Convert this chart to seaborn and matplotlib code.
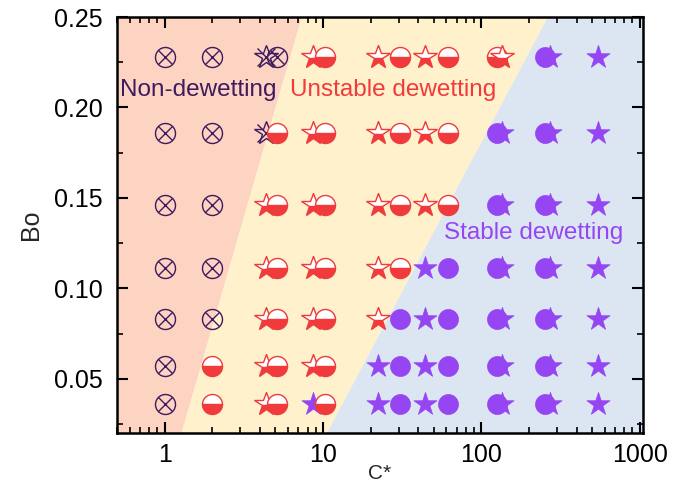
import numpy as np
import pandas as pd
import matplotlib
matplotlib.use("Agg")
import matplotlib.pyplot as plt
import matplotlib.ticker as mticker
import seaborn as sns

# ---------------- data ----------------
BO = [0.228, 0.186, 0.146, 0.111, 0.083, 0.057, 0.036]          # rows, top -> bottom

circle_C = [1.0, 2.0, 5.1, 10.3, 30.7, 61.7, 126, 254]
# N = non-dewetting, U = unstable dewetting, S = stable dewetting (per row, top -> bottom)
circle_states = ["NNNNNNN", "NNNNNUU", "NUUUUUU", "UUUUUUU",
                 "UUUUSSS", "UUUSSSS", "USSSSSS", "SSSSSSS"]

star_C = [4.36, 8.65, 22.3, 44.3, 135, 270, 542]
star_states = ["NNUUUUU", "UUUUUUS", "UUUUUSS", "UUUSSSS",
               "USSSSSS", "SSSSSSS", "SSSSSSS"]

# regime boundaries (C* at Bo = 0.02 and Bo = 0.25)
bound1_C = [1.28, 7.36]
bound2_C = [10.6, 265]
bound_Bo = [0.02, 0.25]

x_ticks = [1, 10, 100, 1000]
x_ticklabels = ["1", "10", "100", "1000"]
y_ticks = [0.05, 0.10, 0.15, 0.20, 0.25]

region_labels = ["Non-dewetting", "Unstable dewetting", "Stable dewetting"]
label_pos = [(0.52, 0.2096), (6.15, 0.2096), (58.5, 0.1306)]

# ---------------- styling ----------------
sns.set_theme(style="ticks")
plt.rcParams["font.family"] = ["Liberation Sans", "DejaVu Sans"]

C_NON = "#3f1a5e"
C_UNS = "#f03a3c"
C_STA = "#9645f2"
BG_RED = "#fdd3c2"
BG_YEL = "#fff1cb"
BG_BLU = "#dbe6f2"


def build(cs, states, shape):
    rows = []
    for c, st in zip(cs, states):
        for bo, s in zip(BO, st):
            rows.append({"C": c, "Bo": bo, "state": s, "shape": shape})
    return pd.DataFrame(rows)


circles = build(circle_C, circle_states, "o")
stars = build(star_C, star_states, "*")

fig = plt.figure(figsize=(6.73, 4.86), dpi=100)
ax = fig.add_axes([0.1738, 0.109, 0.7816, 0.856])
ax.set_xscale("log")
xmin, xmax = 0.5, 1050
ymin, ymax = 0.02, 0.25
ax.set_xlim(xmin, xmax)
ax.set_ylim(ymin, ymax)

# regime backgrounds
ax.fill([xmin, bound1_C[0], bound1_C[1], xmin], [ymin, ymin, ymax, ymax],
        color=BG_RED, lw=0, zorder=0)
ax.fill([bound1_C[0], bound2_C[0], bound2_C[1], bound1_C[1]], [ymin, ymin, ymax, ymax],
        color=BG_YEL, lw=0, zorder=0)
ax.fill([bound2_C[0], xmax, xmax, bound2_C[1]], [ymin, ymin, ymax, ymax],
        color=BG_BLU, lw=0, zorder=0)

CIRC_MS = 14.4
STAR_MS = 17.5


def draw(df, shape, ms, z):
    # non-dewetting: open marker with a cross
    d = df[df.state == "N"]
    if len(d):
        ax.plot(d.C, d.Bo, ls="", marker=shape, ms=ms, mfc="none", mec=C_NON, mew=1.0, zorder=z)
        ax.plot(d.C, d.Bo, ls="", marker="x", ms=ms * 0.74, mec=C_NON, mew=1.0, zorder=z)
    # unstable: half filled (bottom red, top white)
    d = df[df.state == "U"]
    if len(d):
        ax.plot(d.C, d.Bo, ls="", marker=shape, ms=ms, fillstyle="bottom",
                mfc=C_UNS, mfcalt="white", mec=C_UNS, mew=1.0, zorder=z)
    # stable: filled purple
    d = df[df.state == "S"]
    if len(d):
        sns.scatterplot(data=d, x="C", y="Bo", marker=shape, s=ms ** 2, color=C_STA,
                        edgecolor=C_STA, linewidth=0.5, ax=ax, zorder=z, legend=False)


draw(stars[stars.C < 100], "*", STAR_MS, 3)
draw(circles, "o", CIRC_MS, 4)
draw(stars[stars.C > 100], "*", STAR_MS, 5)

# region labels
for txt, (x, y), col in zip(region_labels, label_pos, [C_NON, C_UNS, C_STA]):
    ax.text(x, y, txt, color=col, fontsize=17.5, ha="left", va="center", zorder=6)

# axes styling
ax.set_xticks(x_ticks)
ax.set_xticklabels(x_ticklabels)
ax.xaxis.set_minor_locator(mticker.LogLocator(base=10, subs=np.arange(2, 10), numticks=20))
ax.xaxis.set_minor_formatter(mticker.NullFormatter())
ax.set_yticks(y_ticks)
ax.yaxis.set_major_formatter(mticker.FormatStrFormatter("%.2f"))
ax.yaxis.set_minor_locator(mticker.MultipleLocator(0.025))
ax.set_xlim(xmin, xmax)
ax.set_ylim(ymin, ymax)

ax.tick_params(which="both", direction="in", top=True, right=True, colors="black")
ax.tick_params(which="major", length=8, width=1.5, labelsize=18)
ax.tick_params(axis="y", which="major", pad=10)
ax.tick_params(axis="x", which="major", pad=7)
ax.tick_params(which="minor", length=4.5, width=1.2)
for sp in ax.spines.values():
    sp.set_linewidth(1.8)
    sp.set_color("black")
    sp.set_zorder(10)

ax.set_xlabel("C*", fontsize=15, labelpad=-2)
ax.set_ylabel("Bo", fontsize=18, labelpad=8)

fig.savefig("out.png", dpi=100)
